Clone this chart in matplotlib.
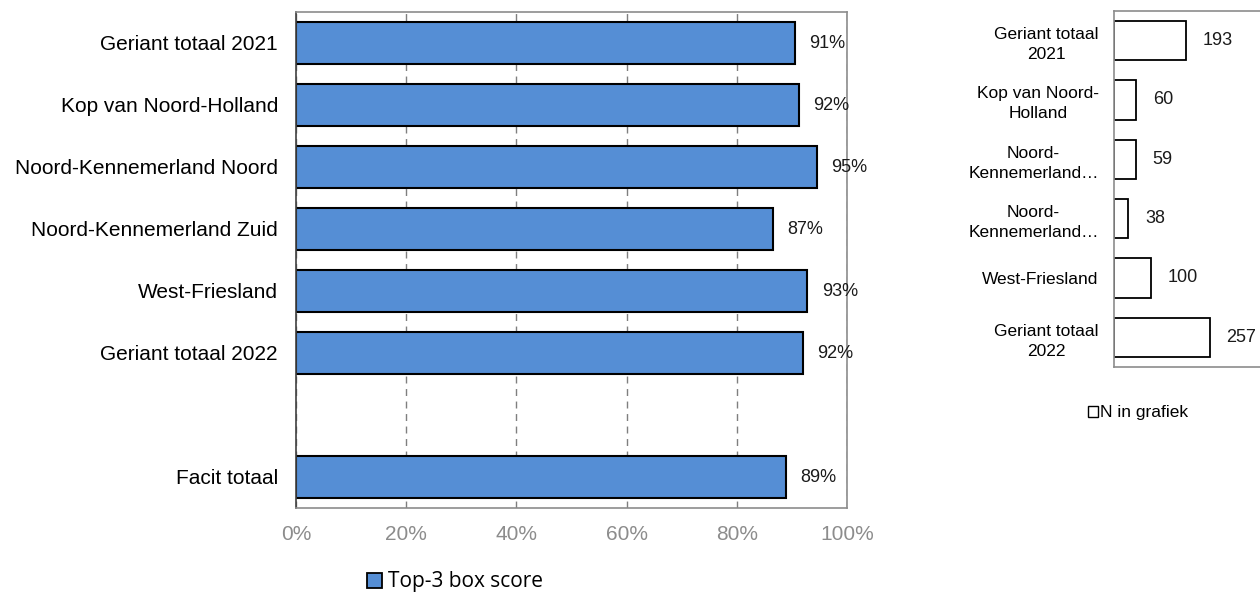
import matplotlib
matplotlib.use("Agg")
import matplotlib.pyplot as plt
from matplotlib.patches import Patch
from matplotlib.ticker import FuncFormatter

plt.rcParams['font.family'] = ['Liberation Sans', 'DejaVu Sans']

categories = ["Geriant totaal 2021", "Kop van Noord-Holland", "Noord-Kennemerland Noord",
              "Noord-Kennemerland Zuid", "West-Friesland", "Geriant totaal 2022", "", "Facit totaal"]
scores = [0.905, 0.913, 0.945, 0.866, 0.928, 0.920, None, 0.890]
score_labels = ["91%", "92%", "95%", "87%", "93%", "92%", "", "89%"]

n_categories = ["Geriant totaal\n2021", "Kop van Noord-\nHolland", "Noord-\nKennemerland…",
                "Noord-\nKennemerland…", "West-Friesland", "Geriant totaal\n2022"]
n_values = [193, 60, 59, 38, 100, 257]

fig = plt.figure(figsize=(12.6, 6.06), dpi=100)

# Left chart
ax = fig.add_axes([296/1260, 1-508/606, (847-296)/1260, (508-12)/606])
ypos = list(range(len(categories)))
for y, v, lab in zip(ypos, scores, score_labels):
    if v is None:
        continue
    ax.barh(y, v, height=0.68, color="#558ED5", edgecolor="black", linewidth=1.5)
    ax.text(v + 0.026, y, lab, va="center", ha="left", fontsize=13, color="#1a1a1a")
ax.set_ylim(len(categories)-0.5, -0.5)
ax.set_xlim(0, 1)
ax.set_yticks(ypos)
ax.set_yticklabels(categories, fontsize=15)
ax.set_xticks([0, 0.2, 0.4, 0.6, 0.8, 1.0])
ax.xaxis.set_major_formatter(FuncFormatter(lambda x, p: f"{x*100:.0f}%"))
ax.tick_params(axis="x", length=0, labelsize=15, labelcolor="#8c8c8c", pad=12)
ax.tick_params(axis="y", length=0, pad=13)
ax.grid(axis="x", linestyle=(0, (5, 4)), color="#7f7f7f", linewidth=1)
ax.set_axisbelow(True)
for s in ["top", "right", "bottom"]:
    ax.spines[s].set_color("#8c8c8c")
    ax.spines[s].set_linewidth(1.2)
ax.spines["left"].set_color("#404040")
ax.spines["left"].set_linewidth(1.2)

fig.legend(handles=[Patch(facecolor="#558ED5", edgecolor="black", linewidth=1.3)],
           labels=["Top-3 box score"], loc="center left",
           bbox_to_anchor=(348/1260, 1-582/606), frameon=False,
           prop={"family": "Open Sans", "size": 15}, handlelength=0.75, handleheight=0.75,
           handletextpad=0.25)

# Right chart
ax2 = fig.add_axes([1114/1260, 1-367/606, (1260-1114)/1260, (367-11)/606])
ypos2 = list(range(len(n_categories)))
ax2.barh(ypos2, n_values, height=0.66, color="white", edgecolor="black", linewidth=1.3)
for y, v in zip(ypos2, n_values):
    ax2.text(v + 45, y, f"{v}", va="center", ha="left", fontsize=13, color="#1a1a1a")
ax2.set_xlim(0, 392)
ax2.set_ylim(len(n_categories)-0.5, -0.5)
ax2.set_yticks(ypos2)
ax2.set_yticklabels(n_categories, fontsize=12.5)
for t in ax2.get_yticklabels():
    t.set_multialignment("center")
    t.set_linespacing(1.4)
ax2.set_xticks([])
ax2.tick_params(axis="y", length=0, pad=11)
for s in ["top", "bottom", "left"]:
    ax2.spines[s].set_color("#8c8c8c")
    ax2.spines[s].set_linewidth(1.2)
ax2.spines["right"].set_visible(False)

fig.legend(handles=[Patch(facecolor="white", edgecolor="black", linewidth=1.0)],
           labels=["N in grafiek"], loc="center left",
           bbox_to_anchor=(1072/1260, 1-413/606), frameon=False,
           prop={"size": 12.5}, handlelength=0.6, handleheight=0.6,
           handletextpad=0.1)

fig.savefig("out.png", dpi=100)
